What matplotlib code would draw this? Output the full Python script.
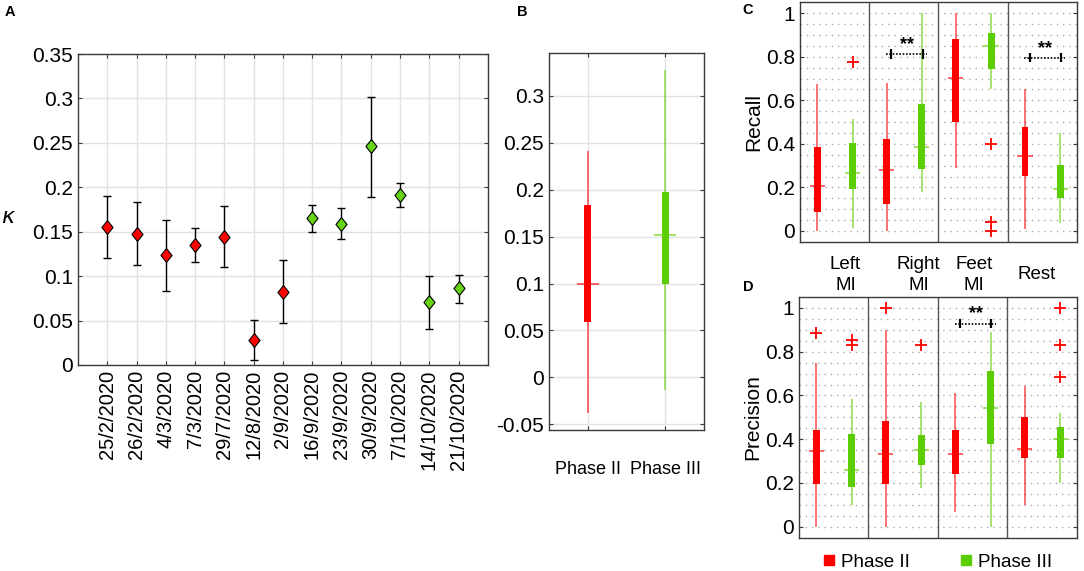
import numpy as np
import matplotlib
matplotlib.use('Agg')
import matplotlib.pyplot as plt
from matplotlib.lines import Line2D

plt.rcParams['font.family'] = ['Liberation Sans', 'DejaVu Sans']

RED = '#ff0000'
GREEN = '#5ccd00'
GREEN_DIAMOND = '#66d414'
SPINE = '#3a3a3a'

# ---- Panel A: kappa per session ----
sessions = ['25/2/2020', '26/2/2020', '4/3/2020', '7/3/2020', '29/7/2020', '12/8/2020',
            '2/9/2020', '16/9/2020', '23/9/2020', '30/9/2020', '7/10/2020', '14/10/2020',
            '21/10/2020']
kappa = [0.155, 0.147, 0.1235, 0.1356, 0.1446, 0.0278, 0.0822, 0.165, 0.159, 0.246,
         0.1908, 0.0706, 0.0864]
kappa_hi = [0.190, 0.183, 0.163, 0.1547, 0.1795, 0.0503, 0.118, 0.1806, 0.1765, 0.302,
            0.2043, 0.0999, 0.1018]
kappa_lo = [0.120, 0.112, 0.0837, 0.1157, 0.110, 0.0056, 0.0473, 0.1498, 0.1416, 0.189,
            0.1773, 0.0406, 0.0698]
session_phase = ['II'] * 7 + ['III'] * 6

# ---- Panel B: kappa per phase (summary stats) ----
phases = ['Phase II', 'Phase III']
b_whislo = [-0.038, -0.013]
b_q1 = [0.059, 0.100]
b_med = [0.100, 0.152]
b_q3 = [0.184, 0.197]
b_whishi = [0.241, 0.327]

# ---- Panels C & D: recall / precision per class (Phase II, Phase III) ----
classes = ['Left\nMI', 'Right\nMI', 'Feet\nMI', 'Rest']
recall_p2 = dict(whislo=[0.0, 0.0, 0.29, 0.01], q1=[0.089, 0.123, 0.499, 0.254],
                 med=[0.207, 0.28, 0.704, 0.346], q3=[0.387, 0.421, 0.88, 0.479],
                 whishi=[0.674, 0.678, 1.0, 0.65], fliers=[[], [], [], []])
recall_p3 = dict(whislo=[0.015, 0.18, 0.65, 0.038], q1=[0.193, 0.283, 0.744, 0.15],
                 med=[0.265, 0.387, 0.85, 0.193], q3=[0.406, 0.582, 0.908, 0.303],
                 whishi=[0.513, 1.0, 1.0, 0.449], fliers=[[0.776], [], [0.398, 0.04, 0.0], []])
precision_p2 = dict(whislo=[0.0, 0.0, 0.069, 0.10], q1=[0.194, 0.195, 0.24, 0.312],
                    med=[0.344, 0.334, 0.333, 0.357], q3=[0.443, 0.484, 0.443, 0.50],
                    whishi=[0.748, 0.90, 0.61, 0.641], fliers=[[0.885], [1.0], [], []])
precision_p3 = dict(whislo=[0.099, 0.175, 0.0, 0.20], q1=[0.183, 0.283, 0.376, 0.315],
                    med=[0.26, 0.35, 0.542, 0.402], q3=[0.423, 0.42, 0.713, 0.456],
                    whishi=[0.583, 0.57, 0.89, 0.52],
                    fliers=[[0.855, 0.83], [0.832], [], [1.0, 0.832, 0.683]])
# significance brackets: (class index, y level)
recall_sig = [(1, 0.812), (3, 0.796)]
precision_sig = [(2, 0.928)]


def style_box(ax):
    for s in ax.spines.values():
        s.set_color(SPINE)
        s.set_linewidth(1.0)
    ax.tick_params(direction='in', top=True, right=True, color=SPINE, length=3,
                   labelsize=15)


def draw_box(ax, x, lo, q1, med, q3, hi, color, box_w, med_w):
    ax.vlines(x, lo, hi, color=color, lw=1.3, alpha=0.6, zorder=2)
    ax.bar(x, q3 - q1, bottom=q1, width=box_w, color=color, zorder=3)
    ax.hlines(med, x - med_w / 2, x + med_w / 2, color=color, lw=1.3, alpha=0.65, zorder=4)


fig = plt.figure(figsize=(10.84, 5.71), dpi=100)

# ---------------- A ----------------
axA = fig.add_axes([0.072, 0.3608, 0.378, 0.5446])
xA = np.arange(1, len(sessions) + 1)
axA.errorbar(xA, kappa, yerr=[np.array(kappa) - np.array(kappa_lo),
                              np.array(kappa_hi) - np.array(kappa)],
             fmt='none', ecolor='black', elinewidth=1.0, capsize=3, capthick=1.0, zorder=3)
diamond = [(0, 1), (0.8, 0), (0, -1), (-0.8, 0), (0, 1)]
for x, k, ph in zip(xA, kappa, session_phase):
    axA.plot(x, k, marker=diamond, markersize=10, color=RED if ph == 'II' else GREEN_DIAMOND,
             markeredgecolor='black', markeredgewidth=0.8, ls='none', zorder=4)
axA.set_xlim(0, 14)
axA.set_ylim(0, 0.35)
axA.set_xticks(xA)
axA.set_xticklabels(sessions, rotation=90, fontsize=14.5)
axA.set_yticks(np.arange(0, 0.351, 0.05))
axA.set_yticklabels(['0', '0.05', '0.1', '0.15', '0.2', '0.25', '0.3', '0.35'])
axA.grid(True, color='#e2e2e2', lw=1.0, zorder=0)
axA.set_axisbelow(True)
style_box(axA)
axA.tick_params(axis='x', labelsize=14.5)
axA.set_ylabel(r'$\kappa$', rotation=0, fontsize=16)
axA.yaxis.set_label_coords(-0.17, 0.44)

# ---------------- B ----------------
axB = fig.add_axes([0.5065, 0.2469, 0.1429, 0.6603])
for i in range(2):
    draw_box(axB, i + 1, b_whislo[i], b_q1[i], b_med[i], b_q3[i], b_whishi[i],
             [RED, GREEN][i], 0.085, 0.29)
axB.set_xlim(0.5, 2.5)
axB.set_ylim(-0.056, 0.3455)
axB.set_xticks([1, 2])
axB.set_xticklabels(phases, fontsize=13)
axB.set_yticks(np.arange(-0.05, 0.301, 0.05))
axB.set_yticklabels(['-0.05', '0', '0.05', '0.1', '0.15', '0.2', '0.25', '0.3'])
axB.grid(True, color='#e2e2e2', lw=1.0, zorder=0)
axB.set_axisbelow(True)
style_box(axB)
axB.tick_params(axis='x', pad=22, labelsize=13)


# ---------------- C & D ----------------
def class_panel(ax, p2, p3, sig, ylabel):
    pos = np.arange(1, len(classes) + 1)
    for i, x in enumerate(pos):
        for st, off, col in ((p2, -0.25, RED), (p3, 0.26, GREEN)):
            draw_box(ax, x + off, st['whislo'][i], st['q1'][i], st['med'][i], st['q3'][i],
                     st['whishi'][i], col, 0.1, 0.22)
            if st['fliers'][i]:
                ax.plot([x + off] * len(st['fliers'][i]), st['fliers'][i], ls='none',
                        marker='+', color=RED, markersize=9, mew=1.3, zorder=5)
    for xd in (1.5, 2.5, 3.5):
        ax.axvline(xd, color='#555555', lw=1.0, zorder=1)
    for ci, yv in sig:
        xr, xg = pos[ci] - 0.25, pos[ci] + 0.26
        ax.plot([xr - 0.01, xg + 0.07], [yv, yv], color='black', ls=(0, (1, 1)), lw=1.2, zorder=6)
        ax.vlines([xr + 0.07, xg + 0.01], yv - 0.022, yv + 0.022, color='black', lw=1.6, zorder=6)
        ax.text((xr + xg) / 2 + 0.04, yv + 0.005, '**', ha='center', va='bottom',
                fontsize=13, fontweight='bold', zorder=6)
    ax.set_xlim(0.5, 4.5)
    ax.set_ylim(-0.05, 1.05)
    ax.set_xticks([])
    ax.set_yticks(np.arange(0, 1.01, 0.2))
    ax.set_yticklabels(['0', '0.2', '0.4', '0.6', '0.8', '1'])
    ax.set_yticks(np.arange(0, 1.01, 0.05), minor=True)
    ax.grid(True, axis='y', which='both', color='#a8a8a8', ls=(0, (1, 3.5)), lw=1.0, zorder=0)
    ax.set_axisbelow(True)
    style_box(ax)
    ax.tick_params(which='minor', length=0)
    ax.set_ylabel(ylabel, fontsize=15, labelpad=2)


axC = fig.add_axes([0.738, 0.5764, 0.2555, 0.4194])
class_panel(axC, recall_p2, recall_p3, recall_sig, 'Recall')
for lbl, xl in zip(classes, [1.157, 2.214, 3.014, 3.914]):
    axC.text(xl, -0.138, lbl, transform=axC.get_xaxis_transform(), ha='center',
             va='center', fontsize=13.5, multialignment='center', linespacing=1.3)

axD = fig.add_axes([0.737, 0.0583, 0.2565, 0.4216])
class_panel(axD, precision_p2, precision_p3, precision_sig, 'Precision')

handles = [Line2D([], [], marker='s', ls='none', color=RED, markersize=7),
           Line2D([], [], marker='s', ls='none', color=GREEN, markersize=7)]
fig.legend(handles, phases, loc='center', bbox_to_anchor=(0.865, 0.015), ncol=2,
           frameon=False, fontsize=13.5, handlelength=0.6, handletextpad=0.35,
           columnspacing=2.7, borderpad=0)

# panel letters
for letter, xf, yf in (('A', 0.004, 0.979), ('B', 0.477, 0.979), ('C', 0.685, 0.982),
                       ('D', 0.685, 0.497)):
    fig.text(xf, yf, letter, fontsize=10.5, fontweight='bold', va='center', ha='left')

fig.savefig('out.png', dpi=100, facecolor='white')
plt.close(fig)
